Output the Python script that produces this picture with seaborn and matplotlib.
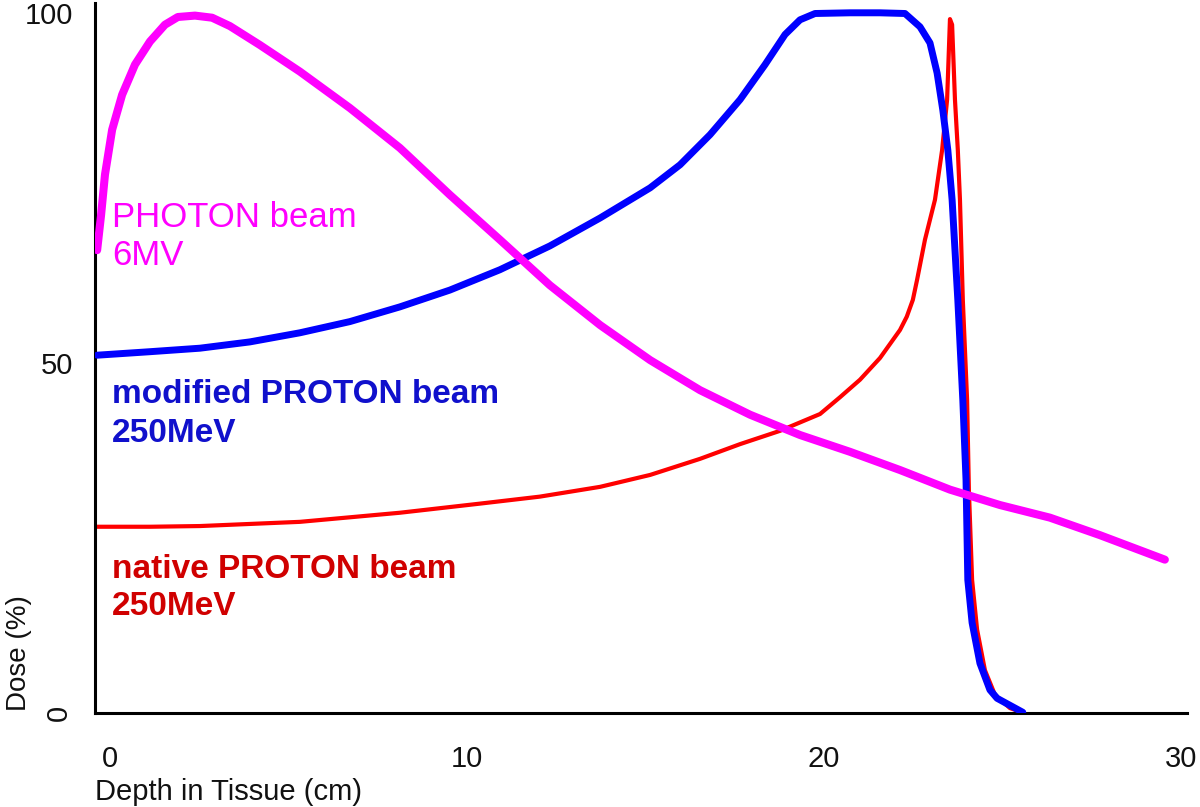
import matplotlib
matplotlib.use("Agg")
import matplotlib.pyplot as plt
import seaborn as sns
import pandas as pd

# ---- data (depth in cm, dose in %) ----
photon_depth = [-0.36, -0.25, -0.14, 0.06, 0.34, 0.70, 1.12, 1.54, 1.90, 2.38, 2.86, 3.36,
                4.20, 5.32, 6.72, 8.12, 9.52, 10.92, 12.32, 13.73, 15.13, 16.53, 17.93,
                19.33, 20.73, 22.13, 23.53, 24.93, 26.33, 27.73, 29.55]
photon_dose = [66.1, 71.1, 76.9, 83.3, 88.3, 92.6, 95.9, 98.3, 99.4, 99.6, 99.3, 98.1,
               95.4, 91.6, 86.4, 80.7, 74.0, 67.6, 61.1, 55.4, 50.4, 46.1, 42.6,
               39.7, 37.3, 34.7, 31.9, 29.7, 27.9, 25.4, 21.9]

modified_depth = [-0.36, 1.12, 2.52, 3.92, 5.32, 6.72, 8.12, 9.52, 10.92, 12.32, 13.73, 15.13,
                  15.97, 16.81, 17.65, 18.35, 18.91, 19.33, 19.75, 20.73, 21.57, 22.27, 22.69,
                  22.97, 23.17, 23.33, 23.47, 23.59, 23.75, 23.89, 23.98, 24.03, 24.15, 24.37,
                  24.65, 24.85, 25.57]
modified_dose = [51.1, 51.6, 52.1, 53.0, 54.3, 55.9, 58.0, 60.4, 63.3, 66.7, 70.7, 75.0,
                 78.3, 82.6, 87.6, 92.6, 96.9, 99.0, 99.9, 100.0, 100.0, 99.9, 98.0,
                 95.7, 91.4, 86.1, 80.4, 73.3, 59.0, 44.7, 33.3, 19.0, 12.9, 7.1,
                 3.3, 2.1, 0.1]

native_depth = [-0.36, 1.12, 2.52, 5.32, 8.12, 10.36, 12.04, 13.73, 15.13, 16.53, 17.65, 18.77,
                19.89, 20.45, 21.01, 21.57, 22.13, 22.32, 22.49, 22.61, 22.83, 23.11, 23.31,
                23.45, 23.53, 23.59, 23.67, 23.75, 23.81, 23.89, 24.01, 24.06, 24.15, 24.29,
                24.51, 24.79, 25.21, 25.55]
native_dose = [26.6, 26.6, 26.7, 27.3, 28.6, 29.9, 30.9, 32.3, 34.0, 36.3, 38.4, 40.3,
               42.7, 45.1, 47.6, 50.7, 54.7, 56.6, 59.0, 61.9, 67.6, 73.3, 80.4,
               87.6, 99.1, 98.3, 87.6, 80.4, 73.3, 59.0, 44.7, 31.9, 19.0, 11.9,
               6.1, 2.6, 0.7, 0.1]

x_ticks = [0, 10, 20, 30]
y_ticks = [0, 50, 100]
label_lines = [
    ("PHOTON beam", 69.4, "#ff00ff", "normal", 25),
    ("6MV", 64.0, "#ff00ff", "normal", 25),
    ("modified PROTON beam", 44.3, "#1010cc", "bold", 24),
    ("250MeV", 38.7, "#1010cc", "bold", 24),
    ("native PROTON beam", 19.3, "#d00000", "bold", 24),
    ("250MeV", 14.0, "#d00000", "bold", 24),
]

sns.set_style("white")
plt.rcParams["font.family"] = ["Liberation Sans", "DejaVu Sans"]

fig = plt.figure(figsize=(12, 8.07), dpi=100)
ax = fig.add_axes([95 / 1200, 94 / 807, 1092 / 1200, 710 / 807])

df_nat = pd.DataFrame({"x": native_depth, "y": native_dose})
df_mod = pd.DataFrame({"x": modified_depth, "y": modified_dose})
df_pho = pd.DataFrame({"x": photon_depth, "y": photon_dose})

sns.lineplot(data=df_nat, x="x", y="y", sort=False, estimator=None, color="#ff0000",
             linewidth=3.0, ax=ax, zorder=2)
sns.lineplot(data=df_mod, x="x", y="y", sort=False, estimator=None, color="#0000ff",
             linewidth=5.0, ax=ax, zorder=3)
sns.lineplot(data=df_pho, x="x", y="y", sort=False, estimator=None, color="#ff00ff",
             linewidth=5.8, ax=ax, zorder=4)

for text, yv, col, wt, fs in label_lines:
    ax.text(0.06, yv, text, color=col, fontsize=fs, fontweight=wt, va="baseline", ha="left")

ax.set_xlim(-0.42, 30.17)
ax.set_ylim(0, 101.4)
ax.set_xticks(x_ticks)
ax.set_xticklabels([str(v) for v in x_ticks])
ax.set_yticks(y_ticks)
ax.set_yticklabels([str(v) for v in y_ticks])
ax.tick_params(axis="x", length=0, pad=23, labelsize=21, labelcolor="#111111")
ax.tick_params(axis="y", length=0, pad=16, labelsize=21, labelcolor="#111111")
ax.get_yticklabels()[0].set_rotation(90)
ax.get_yticklabels()[0].set_va("center")

for s in ["top", "right"]:
    ax.spines[s].set_visible(False)
for s in ["left", "bottom"]:
    ax.spines[s].set_color("black")
    ax.spines[s].set_linewidth(2.2)

ax.set_xlabel("Depth in Tissue (cm)", fontsize=21, color="#111111")
ax.set_ylabel("Dose (%)", fontsize=20, color="#111111")
ax.xaxis.set_label_coords(0.0, -0.092)
ax.xaxis.label.set_ha("left")
ax.yaxis.set_label_coords(-0.058, 0.085)

fig.savefig("out.png", dpi=100)
